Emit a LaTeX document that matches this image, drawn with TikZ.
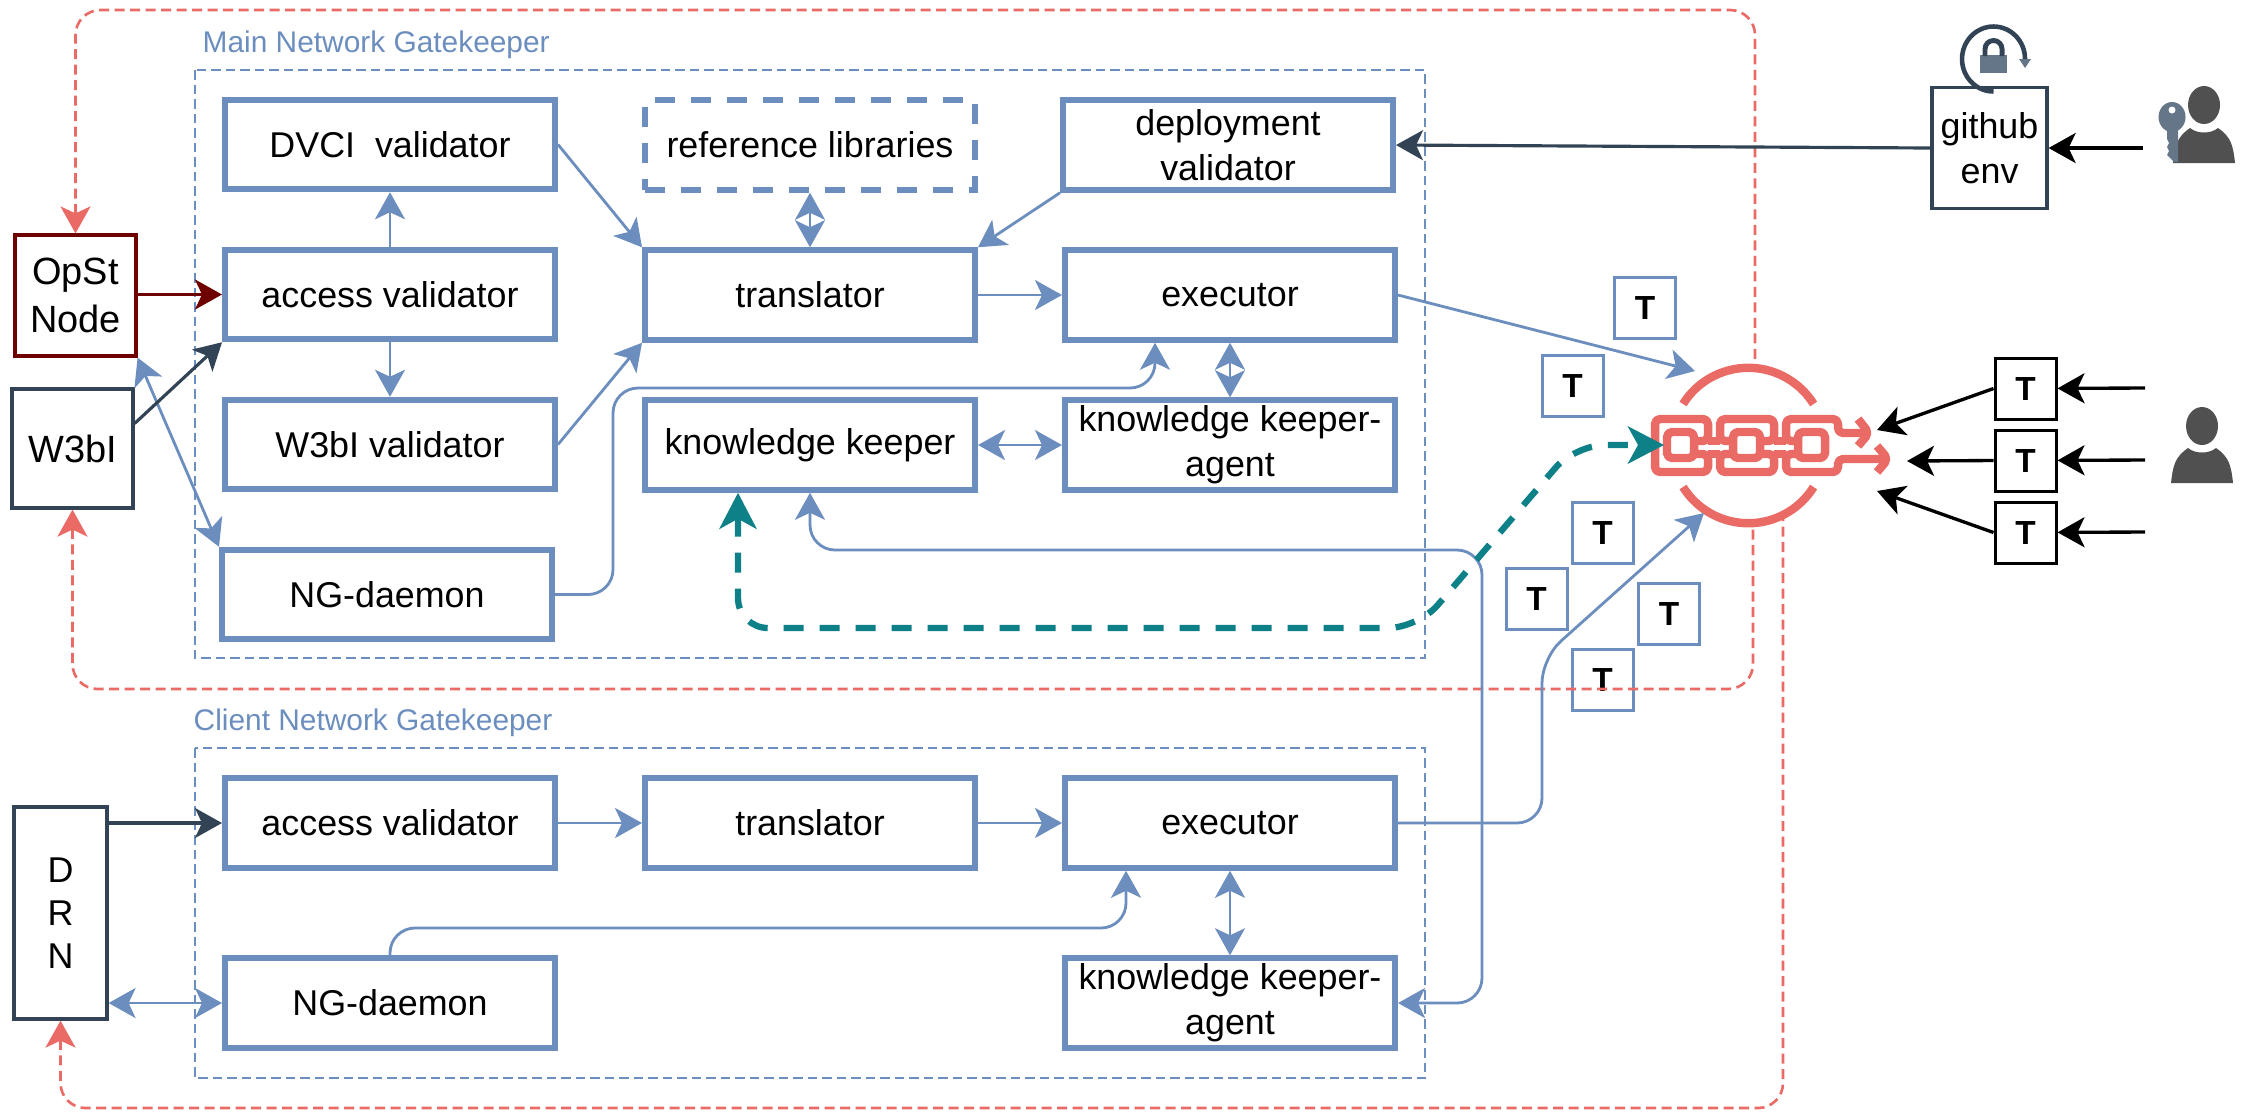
\documentclass[tikz,border=0pt]{standalone}
\usepackage{xcolor}
\usepackage{fontspec}
\setmainfont{Liberation Sans}
\usepackage{tikz}
\usetikzlibrary{arrows.meta}

\definecolor{gkblue}{HTML}{6C8EBF}
\definecolor{gkred}{HTML}{EA6B66}
\definecolor{gkteal}{HTML}{0E8088}
\definecolor{gkslate}{HTML}{314354}
\definecolor{gkgrey}{HTML}{647687}
\definecolor{gkmaroon}{HTML}{6F0000}
\definecolor{gkperson}{HTML}{505050}

\begin{document}
\begin{tikzpicture}[
    font=\fontsize{10.2}{12.8}\selectfont,
    >={Stealth[length=2.7mm,width=3mm,inset=0.7mm]},
    comp/.style={draw=gkblue, line width=1.7pt, align=center, inner sep=0pt,
                minimum width=33mm, minimum height=8.95mm},
    refbox/.style={comp, dash pattern=on 2mm off 1.6mm},
    ext/.style={draw=gkslate, line width=0.9pt, align=center, inner sep=0pt},
    token/.style={draw=gkblue, line width=0.85pt, font=\fontsize{9.5}{11}\selectfont\bfseries,
                minimum width=6.1mm, minimum height=6.1mm, inner sep=0pt},
    utoken/.style={token, draw=black},
    gate/.style={draw=gkblue, line width=0.75pt, dash pattern=on 0.95mm off 0.5mm},
    gatelbl/.style={font=\fontsize{8.5}{10}\selectfont, text=gkblue, inner sep=0pt, anchor=west},
    flow/.style={->, draw=gkblue, line width=0.8pt, rounded corners=2.5mm},
    flowboth/.style={<->, draw=gkblue, line width=0.8pt},
    slatearrow/.style={->, draw=gkslate, line width=0.9pt},
    userarrow/.style={->, draw=black, line width=0.95pt},
    redlink/.style={<-, draw=gkred, line width=0.75pt, rounded corners=2.5mm,
                dash pattern=on 1mm off 0.55mm},
    tealflow/.style={<->, >={Stealth[length=3.6mm,width=3.7mm,inset=1mm]}, draw=gkteal,
                line width=1.8pt, rounded corners=3mm, dash pattern=on 2mm off 1.6mm},
    chainline/.style={draw=gkred, line width=2.4pt, line join=round, rounded corners=0.5mm}
]
\useasboundingbox (0,0) rectangle (22.44,-11.19);

% ---------- Gatekeeper frames ----------
\draw[gate] (1.95,-0.70) rectangle (14.25,-6.58);
\node[gatelbl] (mainlbl) at (2.02,-0.45) {Main Network Gatekeeper};
\draw[gate] (1.95,-7.48) rectangle (14.25,-10.78);
\node[gatelbl] (clientlbl) at (1.93,-7.23) {Client Network Gatekeeper};

% ---------- Main network ----------
\node[comp] (dvci) at (3.90,-1.445) {DVCI\ \ validator};
\node[comp] (access) at (3.90,-2.945) {access validator};
\node[comp] (w3bival) at (3.90,-4.445) {W3bI validator};
\node[comp] (daemon) at (3.87,-5.945) {NG-daemon};
\node[refbox] (reflib) at (8.10,-1.45) {reference libraries};
\node[comp] (translator) at (8.10,-2.95) {translator};
\node[comp] (keeper) at (8.10,-4.45) {knowledge keeper};
\node[comp] (deploy) at (12.28,-1.45) {deployment\\validator};
\node[comp] (exec) at (12.30,-2.95) {executor};
\node[comp] (agent) at (12.30,-4.45) {knowledge keeper-\\agent};

% ---------- Client network ----------
\node[comp] (accessC) at (3.90,-8.23) {access validator};
\node[comp] (translatorC) at (8.10,-8.23) {translator};
\node[comp] (execC) at (12.30,-8.23) {executor};
\node[comp] (daemonC) at (3.90,-10.03) {NG-daemon};
\node[comp] (agentC) at (12.30,-10.03) {knowledge keeper-\\agent};

% ---------- Outside boxes ----------
\node[ext, draw=gkmaroon, minimum width=12.1mm, minimum height=12.1mm,
      font=\fontsize{10.8}{13.6}\selectfont] (opst) at (0.755,-2.955) {OpSt\\Node};
\node[ext, minimum width=12.1mm, minimum height=11.9mm,
      font=\fontsize{10.8}{13.6}\selectfont] (w3bi) at (0.725,-4.485) {W3bI};
\node[ext, minimum width=9.3mm, minimum height=21.2mm,
      font=\fontsize{10.2}{12.3}\selectfont] (drn) at (0.605,-9.13) {D\\R\\N};
\node[ext, minimum width=11.5mm, minimum height=12.1mm] (github) at (19.895,-1.48) {github\\env};

% ---------- Tokens ----------
\node[token] (tokA) at (16.45,-3.075) {T};
\node[token] (tokB) at (15.725,-3.855) {T};
\node[token] (tokC) at (16.025,-5.325) {T};
\node[token] (tokD) at (15.365,-5.985) {T};
\node[token] (tokE) at (16.69,-6.135) {T};
\node[token] (tokF) at (16.025,-6.795) {T};
\node[utoken] (tokU) at (20.255,-3.885) {T};
\node[utoken] (tokV) at (20.255,-4.605) {T};
\node[utoken] (tokW) at (20.255,-5.325) {T};

% ---------- Chain icon ----------
\draw[gkred, line width=2.4pt] (16.83,-4.04) arc[start angle=148,end angle=32,radius=0.77];
\draw[gkred, line width=2.4pt] (16.83,-4.87) arc[start angle=212,end angle=328,radius=0.77];
\draw[chainline] (16.67,-4.32) rectangle (16.94,-4.58);
\draw[chainline] (17.33,-4.32) rectangle (17.60,-4.58);
\draw[chainline] (17.98,-4.32) rectangle (18.25,-4.58);
\draw[chainline] (16.94,-4.41) -- (17.08,-4.41) -- (17.08,-4.19) -- (16.55,-4.19)
    -- (16.55,-4.72) -- (17.08,-4.72) -- (17.08,-4.54) -- (16.94,-4.54);
\draw[chainline] (17.08,-4.41) -- (17.20,-4.41);
\draw[chainline] (17.08,-4.54) -- (17.20,-4.54);
\draw[chainline] (17.74,-4.41) -- (17.86,-4.41);
\draw[chainline] (17.74,-4.54) -- (17.86,-4.54);
\draw[chainline] (17.33,-4.41) -- (17.20,-4.41) -- (17.20,-4.19) -- (17.74,-4.19) -- (17.74,-4.41) -- (17.60,-4.41);
\draw[chainline] (17.33,-4.54) -- (17.20,-4.54) -- (17.20,-4.72) -- (17.74,-4.72) -- (17.74,-4.54) -- (17.60,-4.54);
\draw[chainline] (17.98,-4.41) -- (17.86,-4.41) -- (17.86,-4.19) -- (18.38,-4.19)
    -- (18.38,-4.33) -- (18.68,-4.33);
\draw[chainline] (17.98,-4.54) -- (17.86,-4.54) -- (17.86,-4.72) -- (18.38,-4.72)
    -- (18.38,-4.59) -- (18.86,-4.59);
\draw[chainline] (18.58,-4.19) -- (18.69,-4.33) -- (18.58,-4.46);
\draw[chainline] (18.77,-4.46) -- (18.88,-4.59) -- (18.77,-4.72);

\coordinate (chainTop) at (17.55,-3.68);
\coordinate (chainBotA) at (17.53,-5.22);
\coordinate (chainBotB) at (17.83,-5.16);
\coordinate (chainIn) at (16.95,-3.71);
\coordinate (chainInC) at (17.04,-5.13);
\coordinate (chainLeft) at (16.64,-4.45);
\coordinate (chainU) at (18.77,-4.30);
\coordinate (chainV) at (19.07,-4.61);
\coordinate (chainW) at (18.77,-4.91);

% ---------- Red links ----------
\draw[redlink] (opst.north) -- (0.755,-0.10) -- (17.55,-0.10) -- (chainTop);
\draw[redlink] (w3bi.south) -- (0.725,-6.89) -- (17.53,-6.89) -- (chainBotA);
\draw[redlink] (drn.south) -- (0.605,-11.08) -- (17.83,-11.08) -- (chainBotB);

% ---------- Main network arrows ----------
\draw[flow] (access) -- (dvci);
\draw[flow] (access) -- (w3bival);
\draw[flow] (dvci.east) -- (translator.north west);
\draw[flow] (w3bival.east) -- (translator.south west);
\draw[flow] (deploy.south west) -- (translator.north east);
\draw[flow] (translator) -- (exec);
\draw[flow] (exec.east) -- (chainIn);
\draw[flowboth] (reflib) -- (translator);
\draw[flowboth] (exec) -- (agent);
\draw[flowboth] (keeper) -- (agent);
\draw[flow] (daemon.east) -- (6.13,-5.945) -- (6.13,-3.88) -- (11.55,-3.88) -- ([xshift=-7.5mm]exec.south);
\draw[flowboth] (opst.south east) -- (daemon.north west);
\draw[->, draw=gkmaroon, line width=0.9pt] (opst.east |- access.west) -- (access.west);
\draw[slatearrow] ([yshift=2.5mm]w3bi.east) -- (access.south west);

% ---------- Client network arrows ----------
\draw[flow] (accessC) -- (translatorC);
\draw[flow] (translatorC) -- (execC);
\draw[flowboth] (execC) -- (agentC);
\draw[flow] (execC.east) -- (15.42,-8.23) -- (15.42,-6.58) -- (chainInC);
\draw[flow] (daemonC.north) -- (3.90,-9.28) -- (11.26,-9.28) -- ([xshift=-10.4mm]execC.south);
\draw[flow, <->] (keeper.south) -- (8.10,-5.50) -- (14.82,-5.50) -- (14.82,-10.03) -- (agentC.east);
\draw[flowboth] (drn.east |- daemonC.west) -- (daemonC.west);
\draw[slatearrow] (drn.east |- accessC.west) -- (accessC.west);

% ---------- Teal route ----------
\draw[tealflow] ([xshift=-7.2mm]keeper.south) -- (7.38,-6.28) -- (14.18,-6.28) -- (15.75,-4.45) -- (chainLeft);

% ---------- Users and github ----------
\draw[slatearrow] (github.west) -- (deploy.east);
\coordinate (keyUser) at (21.43,-1.48);
\draw[userarrow] (keyUser) -- (github.east);
\coordinate (userA) at (21.45,-3.88);
\coordinate (userB) at (21.45,-4.60);
\coordinate (userC) at (21.45,-5.32);
\draw[userarrow] (userA) -- (tokU);
\draw[userarrow] (userB) -- (tokV);
\draw[userarrow] (userC) -- (tokW);
\draw[userarrow] (tokU.west) -- (chainU);
\draw[userarrow] (tokV.west) -- (chainV);
\draw[userarrow] (tokW.west) -- (chainW);

% ---------- Lock and rotation ----------
\draw[gkslate, line width=1.3pt] (19.935,-0.915) arc[start angle=270,end angle=0,x radius=0.315,y radius=0.325];
\fill[gkgrey] (20.19,-0.59) -- (20.31,-0.59) -- (20.25,-0.68) -- cycle;
\fill[gkgrey] (19.80,-0.55) rectangle (20.07,-0.73);
\draw[gkslate, line width=1.4pt] (19.85,-0.56) -- (19.85,-0.49) arc[start angle=180,end angle=0,radius=0.085] -- (20.02,-0.56);

% ---------- Person with key ----------
\begin{scope}[shift={(22.04,-1.05)}]
\fill[gkperson] (0,0) ellipse (0.16 and 0.19);
\fill[gkperson] (-0.31,-0.58) .. controls (-0.29,-0.40) and (-0.27,-0.32) .. (-0.14,-0.23)
    .. controls (-0.07,-0.29) and (0.07,-0.29) .. (0.14,-0.23)
    .. controls (0.27,-0.32) and (0.29,-0.40) .. (0.31,-0.58) -- cycle;
\fill[gkgrey] (-0.32,-0.12) ellipse (0.135 and 0.15);
\fill[gkgrey] (-0.37,-0.20) -- (-0.26,-0.20) -- (-0.26,-0.57) -- (-0.30,-0.57) -- (-0.37,-0.50)
    -- (-0.35,-0.46) -- (-0.37,-0.42) -- (-0.35,-0.38) -- (-0.37,-0.34) -- cycle;
\fill[white] (-0.32,-0.05) circle (0.035);
\end{scope}

% ---------- Person ----------
\begin{scope}[shift={(22.02,-4.26)}]
\fill[gkperson] (0,0) ellipse (0.16 and 0.19);
\fill[gkperson] (-0.31,-0.57) .. controls (-0.29,-0.39) and (-0.27,-0.31) .. (-0.14,-0.22)
    .. controls (-0.07,-0.28) and (0.07,-0.28) .. (0.14,-0.22)
    .. controls (0.27,-0.31) and (0.29,-0.39) .. (0.31,-0.57) -- cycle;
\end{scope}

\end{tikzpicture}
\end{document}
